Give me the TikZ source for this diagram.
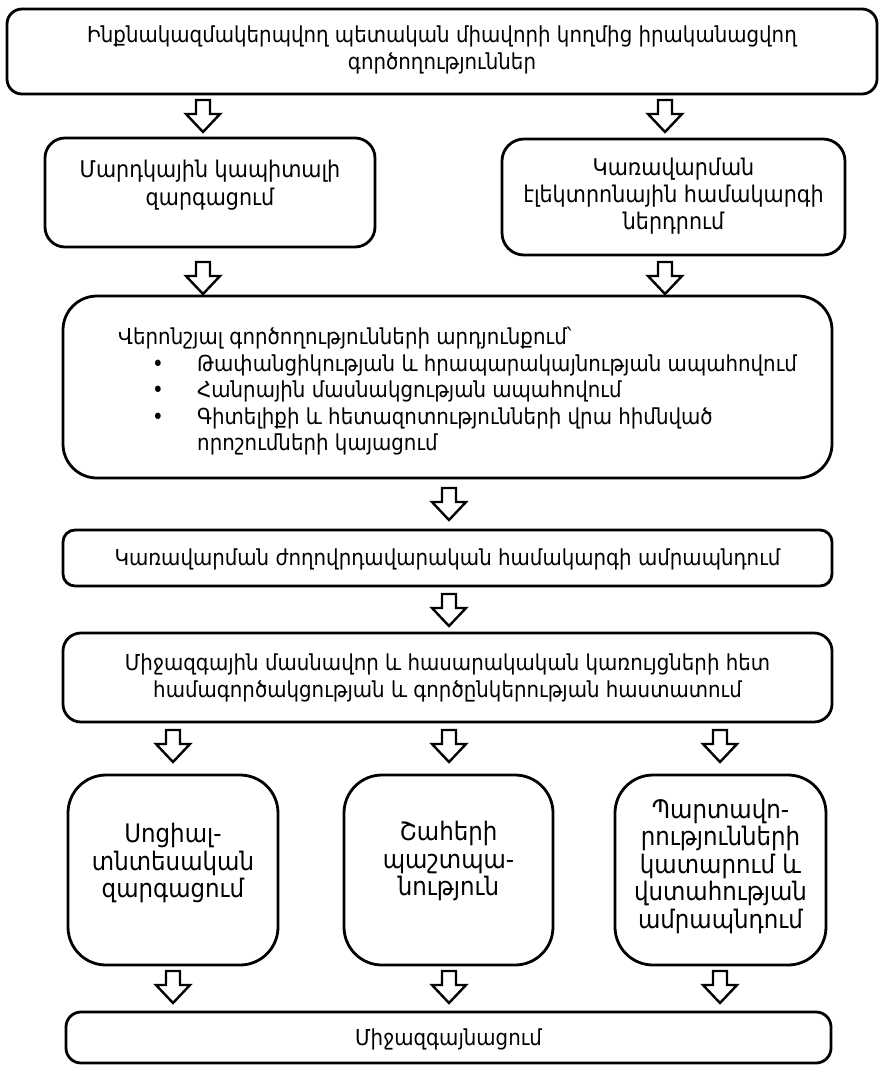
\documentclass[tikz,border=0pt]{standalone}
\usepackage{fontspec}
\setmainfont{DejaVu Sans}[FakeStretch=0.9]
\begin{document}
\begin{tikzpicture}[x=1pt, y=-1pt,
  box/.style={draw, line width=2.8pt, fill=white, inner sep=0pt},
  txt/.style={font=\fontsize{22}{27.5}\selectfont, align=center, inner sep=0pt},
  bigtxt/.style={font=\fontsize{25.5}{27.5}\selectfont, align=center, inner sep=0pt},
  ltxt/.style={font=\fontsize{22}{27.5}\selectfont, anchor=base west, inner sep=0pt},
  barrow/.pic={\draw[line width=2.4pt, line join=miter, fill=white]
     (-7,0) -- (7,0) -- (7,14) -- (17,14) -- (0,32) -- (-17,14) -- (-7,14) -- cycle;}
]
\useasboundingbox[fill=white] (0,0) rectangle (880,1068);

% boxes
\node[box, minimum width=870pt, minimum height=85pt, rounded corners=15pt] (top) at (442,51.5) {};
\node[box, minimum width=330pt, minimum height=109pt, rounded corners=20pt] (hc) at (210,192.5) {};
\node[box, minimum width=343pt, minimum height=116pt, rounded corners=22pt] (egov) at (673.5,197) {};
\node[box, minimum width=769pt, minimum height=182pt, rounded corners=34pt] (res) at (447.5,387) {};
\node[box, minimum width=769pt, minimum height=56pt, rounded corners=12pt] (dem) at (447.5,558) {};
\node[box, minimum width=769pt, minimum height=89pt, rounded corners=18pt] (intl) at (447.5,677.5) {};
\node[box, minimum width=210pt, minimum height=190pt, rounded corners=38pt] (soc) at (173,870) {};
\node[box, minimum width=209pt, minimum height=190pt, rounded corners=38pt] (int) at (448.5,870) {};
\node[box, minimum width=211pt, minimum height=190pt, rounded corners=38pt] (obl) at (720.5,870) {};
\node[box, minimum width=765pt, minimum height=51pt, rounded corners=15pt] (glob) at (448.5,1037.5) {};

% texts
\node[txt] (topt) at (442,50) {Ինքնակազմակերպվող պետական միավորի կողմից իրականացվող\\գործողություններ};
\node[txt, font=\fontsize{23}{28}\selectfont] (hct) at (210,185) {Մարդկային կապիտալի\\զարգացում};
\node[txt, font=\fontsize{23}{27}\selectfont] (egovt) at (673.5,196) {Կառավարման\\էլեկտրոնային համակարգի\\ներդրում};
\node[ltxt] (r0) at (118,344) {Վերոնշյալ գործողությունների արդյունքում՝};
\node[ltxt] (b1) at (152,371) {•};
\node[ltxt] (b2) at (152,397) {•};
\node[ltxt] (b3) at (152,424) {•};
\node[ltxt] (r1) at (197,371) {Թափանցիկության և հրապարակայնության ապահովում};
\node[ltxt] (r2) at (197,397) {Հանրային մասնակցության ապահովում};
\node[ltxt] (r3) at (197,424) {Գիտելիքի և հետազոտությունների վրա հիմնված};
\node[ltxt] (r4) at (197,450) {որոշումների կայացում};
\node[txt] (demt) at (447.5,559) {Կառավարման ժողովրդավարական համակարգի ամրապնդում};
\node[txt] (intlt) at (447.5,678) {Միջազգային մասնավոր և հասարակական կառույցների հետ\\համագործակցության և գործընկերության հաստատում};
\node[bigtxt] (soct) at (173,863) {Սոցիալ-\\տնտեսական\\զարգացում};
\node[bigtxt] (intt) at (448.5,861) {Շահերի\\պաշտպա-\\նություն};
\node[bigtxt] (oblt) at (720.5,866) {Պարտավո-\\րությունների\\կատարում և\\վստահության\\ամրապնդում};
\node[txt] (globt) at (448.5,1039) {Միջազգայնացում};

% block arrows
\pic at (203,100) {barrow};
\pic at (665,100) {barrow};
\pic at (203,262) {barrow};
\pic at (665,262) {barrow};
\pic at (449,488) {barrow};
\pic at (449,594) {barrow};
\pic at (173,730) {barrow};
\pic at (449,730) {barrow};
\pic at (720,730) {barrow};
\pic at (173,971) {barrow};
\pic at (449,971) {barrow};
\pic at (720,971) {barrow};
\end{tikzpicture}
\end{document}
